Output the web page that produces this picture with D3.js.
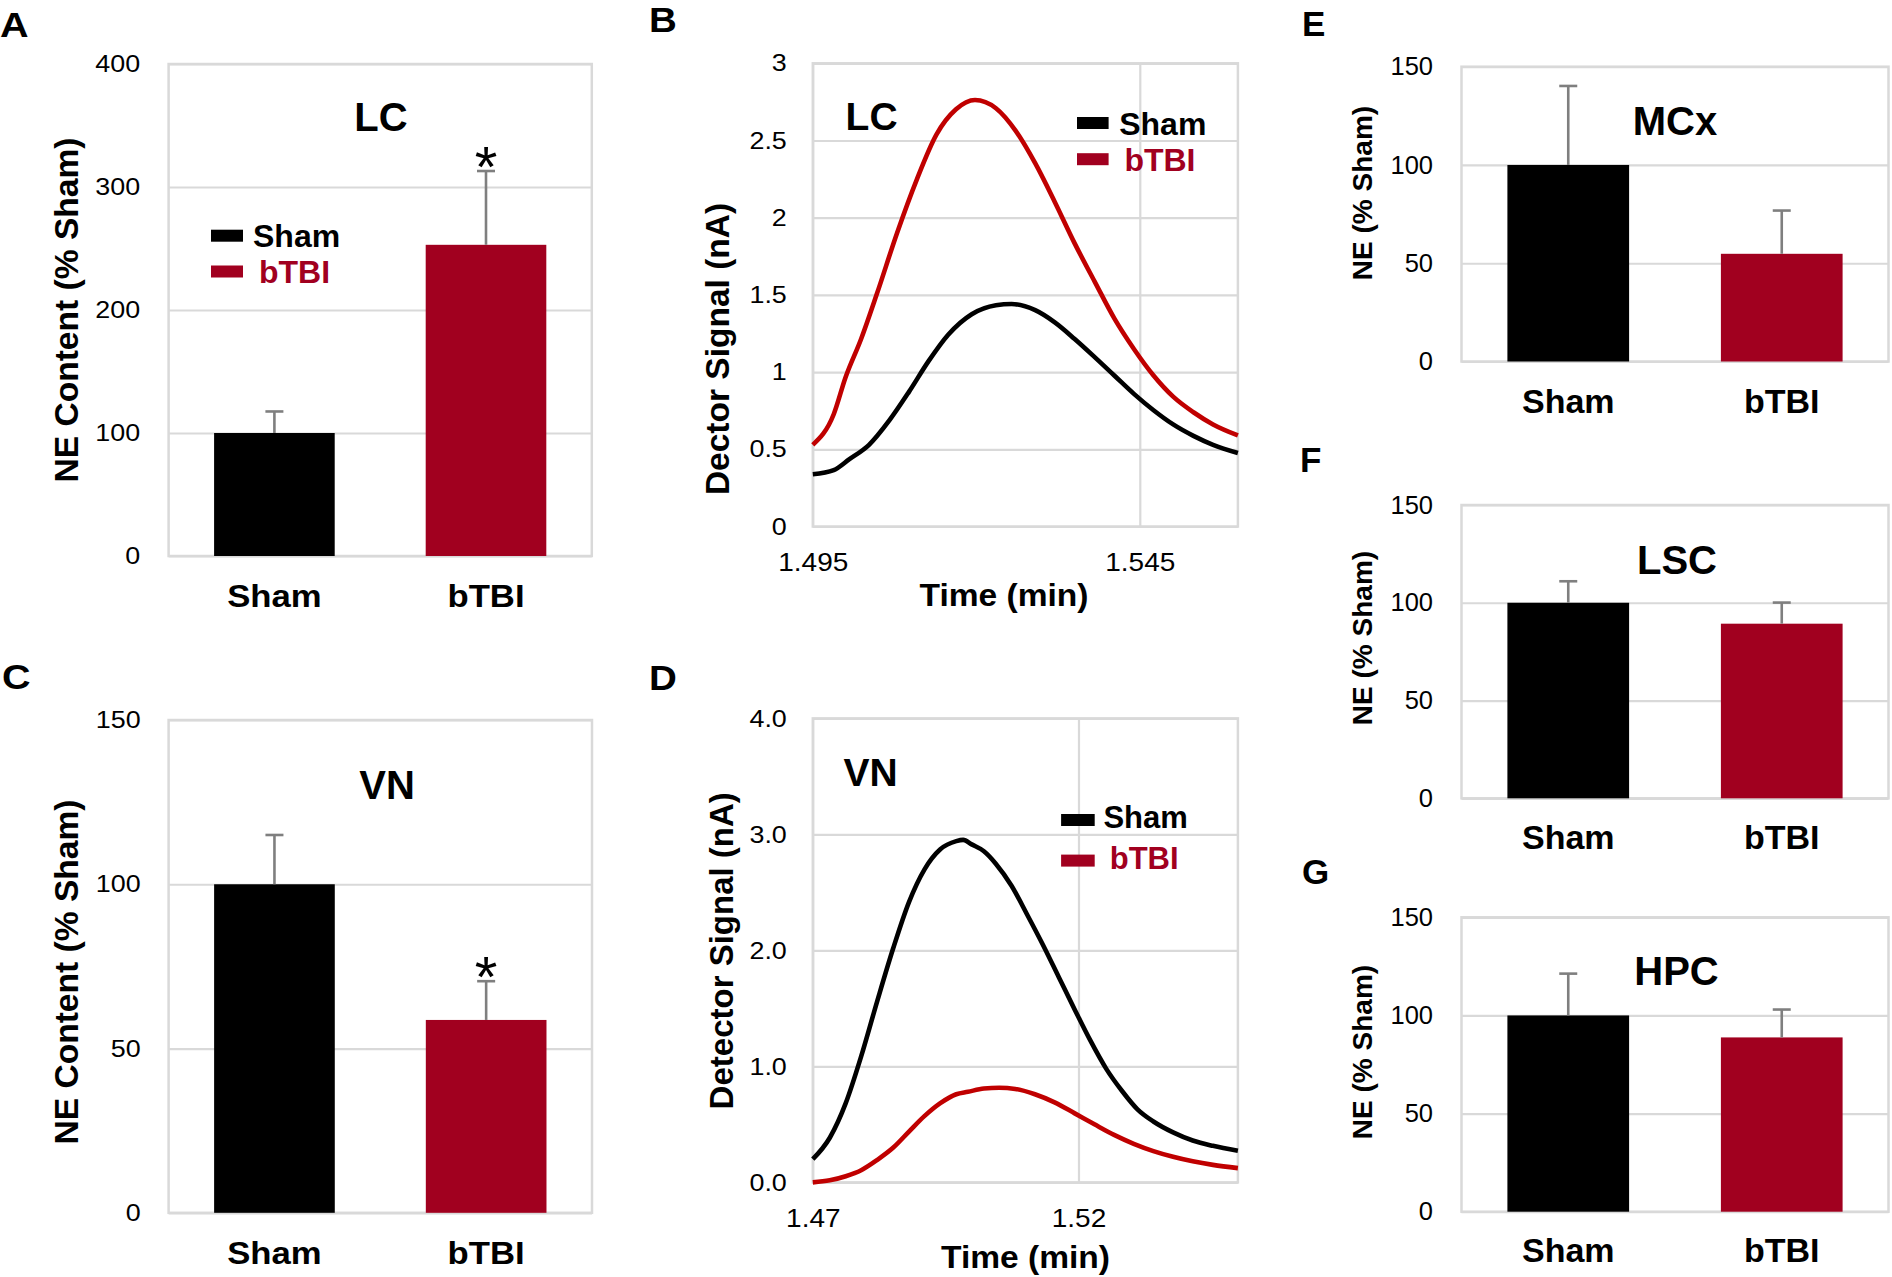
<!DOCTYPE html>
<html><head><meta charset="utf-8">
<script src="https://cdn.jsdelivr.net/npm/d3@7"></script>
<style>body{margin:0;background:#fff}</style>
</head><body><div id="chart"></div>
<script>
// ---------------- DATA ----------------
const groups = ["Sham", "bTBI"];

const lcMean = [100, 253];
const lcSem = [17.5, 60];
const lcSig = [false, true];
const lcTicks = [0, 100, 200, 300, 400];

const vnMean = [100, 58.7];
const vnSem = [15, 11.8];
const vnSig = [false, true];

const pctTicks = [0, 50, 100, 150];

const mcxMean = [100, 54.8];
const mcxSem = [40.2, 22.0];
const lscMean = [100, 89.3];
const lscSem = [11, 10.8];
const hpcMean = [100, 88.8];
const hpcSem = [21.3, 14.2];
const noSig = [false, false];

// LC chromatogram (panel B)
const lcShamTime = [1.4950,1.4982,1.5006,1.5036,1.5067,1.5097,1.5127,1.5157,1.5193,1.5230,1.5254,1.5290,1.5320,1.5350,1.5381,1.5411,1.5441,1.5471,1.5501,1.5532,1.5562,1.5600];
const lcShamSignal = [0.338,0.365,0.436,0.529,0.687,0.872,1.071,1.242,1.375,1.433,1.441,1.401,1.322,1.216,1.097,0.978,0.859,0.753,0.661,0.587,0.529,0.476];
const lcBtbiTime = [1.4950,1.4982,1.5000,1.5024,1.5048,1.5079,1.5109,1.5139,1.5169,1.5198,1.5230,1.5260,1.5290,1.5320,1.5350,1.5381,1.5411,1.5441,1.5471,1.5501,1.5532,1.5562,1.5600];
const lcBtbiSignal = [0.529,0.727,0.965,1.216,1.507,1.903,2.247,2.538,2.702,2.762,2.709,2.564,2.353,2.102,1.837,1.586,1.348,1.150,0.978,0.841,0.740,0.661,0.590];
const lcChromYTicks = [0, 0.5, 1, 1.5, 2, 2.5, 3];
const lcChromXTicks = [1.495, 1.545];

// VN chromatogram (panel D)
const vnShamTime = [1.4700,1.4732,1.4762,1.4791,1.4821,1.4851,1.4881,1.4910,1.4940,1.4970,1.4983,1.4999,1.5022,1.5044,1.5074,1.5103,1.5133,1.5163,1.5193,1.5222,1.5252,1.5282,1.5311,1.5341,1.5378,1.5415,1.5453,1.5500];
const vnShamSignal = [0.200,0.385,0.683,1.086,1.559,2.014,2.417,2.697,2.872,2.942,2.953,2.914,2.855,2.750,2.557,2.312,2.049,1.769,1.489,1.226,0.981,0.788,0.630,0.525,0.431,0.361,0.315,0.273];
const vnBtbiTime = [1.4700,1.4732,1.4762,1.4791,1.4821,1.4851,1.4881,1.4910,1.4940,1.4970,1.4992,1.5022,1.5051,1.5081,1.5118,1.5155,1.5193,1.5230,1.5267,1.5304,1.5341,1.5378,1.5415,1.5453,1.5500];
const vnBtbiSignal = [0.000,0.018,0.053,0.105,0.193,0.298,0.438,0.571,0.683,0.760,0.781,0.809,0.816,0.806,0.760,0.690,0.595,0.501,0.410,0.333,0.270,0.221,0.182,0.151,0.123];
const vnChromYTicks = [0, 1, 2, 3, 4];
const vnChromXTicks = [1.47, 1.52];

// ---------------- STYLE ----------------
const W = 1892, H = 1277;
const FONT = "'Liberation Sans', Arial, Helvetica, sans-serif";
const GRID = "#d9d9d9", ERR = "#7f7f7f", RED_BAR = "#a1001f", RED_LINE = "#c00000";
const barColors = ["#000000", RED_BAR];
const legendColors = ["#000000", RED_BAR];
const lineColors = ["#000000", RED_LINE];

const styleAD = {tick: 24, tickSx: 1.12, cat: 31, catSx: 1.12, ytitle: 33.6, ytSx: 1.0, title: 40, letter: 36, letterSx: 1.1};
const styleEG = {tick: 25.5, tickSx: 1, cat: 34, catSx: 1, ytitle: 28, ytSx: 1, title: 40, letter: 35, letterSx: 1};

const svg = d3.select("#chart").append("svg")
  .attr("width", W).attr("height", H)
  .style("font-family", FONT);
svg.append("rect").attr("width", W).attr("height", H).attr("fill", "#fff");

function label(g, x, y, str, o) {
  const sx = o.sx || 1;
  let tr = `translate(${x},${y})`;
  if (sx !== 1) tr += ` scale(${sx},1)`;
  if (o.rot) tr += ` rotate(${o.rot})`;
  return g.append("text").attr("transform", tr)
    .attr("text-anchor", o.anchor || "start")
    .attr("font-size", o.size)
    .attr("font-weight", o.weight || "normal")
    .attr("fill", o.fill || "#000")
    .style("font-family", o.family || FONT)
    .text(str);
}

function styleAxis(axg, size, sx, orient, pad, base) {
  axg.attr("font-family", null).attr("font-size", null);
  axg.select(".domain").remove();
  axg.selectAll(".tick line").attr("stroke", GRID).attr("stroke-width", 2.2);
  const t = axg.selectAll(".tick text")
    .attr("font-size", size).attr("fill", "#000").style("font-family", FONT);
  if (orient === "y") {
    t.attr("x", -pad / sx).attr("transform", sx !== 1 ? `scale(${sx},1)` : null);
  } else {
    t.attr("y", base).attr("dy", 0).attr("transform", sx !== 1 ? `scale(${sx},1)` : null);
  }
}

function frame(g, c) {
  g.append("rect").attr("x", c.x0).attr("y", c.y0)
    .attr("width", c.x1 - c.x0).attr("height", c.y1 - c.y0)
    .attr("fill", "none").attr("stroke", GRID).attr("stroke-width", 2.5);
}

function barPanel(c) {
  const s = c.style;
  const g = svg.append("g");
  const y = d3.scaleLinear().domain([0, c.max]).range([c.y1, c.y0]);
  const x = d3.scaleBand().domain(groups).range([c.x0, c.x1]).paddingInner(0.43).paddingOuter(0.215);
  const axg = g.append("g").attr("transform", `translate(${c.x0},0)`)
    .call(d3.axisLeft(y).tickValues(c.ticks).tickSize(-(c.x1 - c.x0)).tickPadding(c.tickPad).tickFormat(d3.format("d")));
  styleAxis(axg, s.tick, s.tickSx, "y", c.tickPad);
  frame(g, c);

  const rows = groups.map((k, i) => ({k, m: c.mean[i], e: c.sem[i], col: barColors[i], sig: c.sig[i]}));
  const cx = d => x(d.k) + x.bandwidth() / 2;
  g.selectAll("rect.bar").data(rows).join("rect").attr("class", "bar")
    .attr("x", d => x(d.k)).attr("width", x.bandwidth())
    .attr("y", d => y(d.m)).attr("height", d => y(0) - y(d.m))
    .attr("fill", d => d.col);
  g.selectAll("line.err").data(rows).join("line").attr("class", "err")
    .attr("x1", cx).attr("x2", cx)
    .attr("y1", d => y(d.m)).attr("y2", d => y(d.m + d.e))
    .attr("stroke", ERR).attr("stroke-width", 2.6);
  g.selectAll("line.cap").data(rows).join("line").attr("class", "cap")
    .attr("x1", d => cx(d) - 9).attr("x2", d => cx(d) + 9)
    .attr("y1", d => y(d.m + d.e)).attr("y2", d => y(d.m + d.e))
    .attr("stroke", ERR).attr("stroke-width", 2.6);
  g.selectAll("text.star").data(rows.filter(d => d.sig)).join("text").attr("class", "star")
    .attr("x", cx).attr("y", d => y(d.m + d.e) + 16)
    .attr("text-anchor", "middle").attr("font-size", 58).style("font-family", FONT)
    .text("*");

  rows.forEach(d => label(g, cx(d), c.catBase, d.k, {size: s.cat, sx: s.catSx, weight: "bold", anchor: "middle"}));
  label(g, c.titleX, c.titleY, c.title, {size: s.title, weight: "bold", anchor: "middle"});
  label(g, c.ytX, c.ytY, c.ytitle, {size: s.ytitle, sx: s.ytSx, weight: "bold", anchor: "middle", rot: -90});
  label(g, c.letterX, c.letterY, c.letter, {size: s.letter, sx: s.letterSx, weight: "bold"});
  if (c.legend) drawLegend(g, c.legend, legendColors);
}

function drawLegend(g, L, cols) {
  groups.forEach((k, i) => {
    g.append("rect").attr("x", L.sx).attr("y", L.cy[i] - 6).attr("width", L.sw).attr("height", 12).attr("fill", cols[i]);
    label(g, L.tx[i], L.by[i], k, {size: L.size, weight: "bold", fill: cols[i]});
  });
}

function linePanel(c) {
  const g = svg.append("g");
  const x = d3.scaleLinear().domain(c.xdom).range([c.x0, c.x1]);
  const y = d3.scaleLinear().domain(c.ydom).range([c.y1, c.y0]);
  const ayg = g.append("g").attr("transform", `translate(${c.x0},0)`)
    .call(d3.axisLeft(y).tickValues(c.yticks).tickSize(-(c.x1 - c.x0)).tickPadding(c.tickPad).tickFormat(c.yfmt));
  styleAxis(ayg, 24, 1.12, "y", c.tickPad);
  const axg = g.append("g").attr("transform", `translate(0,${c.y1})`)
    .call(d3.axisBottom(x).tickValues(c.xticks).tickSize(-(c.y1 - c.y0)).tickFormat(d => String(d)));
  styleAxis(axg, 25, 1.12, "x", 0, c.xtickBase - c.y1);
  frame(g, c);

  const line = d3.line().x(d => x(d.t)).y(d => y(d.v)).curve(d3.curveMonotoneX);
  c.series.forEach((sr, i) => {
    const pts = sr.t.map((t, j) => ({t, v: sr.v[j]}));
    g.append("path").datum(pts).attr("d", line).attr("fill", "none")
      .attr("stroke", lineColors[i]).attr("stroke-width", 4.6)
      .attr("stroke-linejoin", "round").attr("stroke-linecap", "butt");
  });

  label(g, c.titleX, c.titleY, c.title, {size: 39, weight: "bold"});
  label(g, c.ytX, c.ytY, c.ytitle, {size: c.ytSize, weight: "bold", anchor: "middle", rot: -90});
  label(g, c.xtX, c.xtY, "Time (min)", {size: 30.5, sx: 1.1, weight: "bold", anchor: "middle"});
  label(g, c.letterX, c.letterY, c.letter, {size: 35, sx: 1.1, weight: "bold"});
  drawLegend(g, c.legend, legendColors);
}

// ---------------- PANELS ----------------
barPanel({
  x0: 168.6, x1: 591.8, y0: 64, y1: 556, max: 400, ticks: lcTicks, tickPad: 28.5,
  mean: lcMean, sem: lcSem, sig: lcSig, style: styleAD,
  title: "LC", titleX: 381, titleY: 131.4,
  ytitle: "NE Content (% Sham)", ytX: 78, ytY: 310,
  letter: "A", letterX: 0, letterY: 37, catBase: 607,
  legend: {sx: 211, sw: 32, cy: [235.7, 271.5], tx: [253, 259], by: [247, 283], size: 32}
});

barPanel({
  x0: 168.6, x1: 592, y0: 720, y1: 1212.8, max: 150, ticks: pctTicks, tickPad: 28,
  mean: vnMean, sem: vnSem, sig: vnSig, style: styleAD,
  title: "VN", titleX: 387, titleY: 799.3,
  ytitle: "NE Content (% Sham)", ytX: 78.4, ytY: 972,
  letter: "C", letterX: 2, letterY: 688.7, catBase: 1263.6
});

barPanel({
  x0: 1461.5, x1: 1888.5, y0: 66.7, y1: 361.5, max: 150, ticks: pctTicks, tickPad: 28.5,
  mean: mcxMean, sem: mcxSem, sig: noSig, style: styleEG,
  title: "MCx", titleX: 1675, titleY: 135,
  ytitle: "NE (% Sham)", ytX: 1372, ytY: 193,
  letter: "E", letterX: 1302, letterY: 35.7, catBase: 413.3
});

barPanel({
  x0: 1461.5, x1: 1888.5, y0: 505, y1: 798.3, max: 150, ticks: pctTicks, tickPad: 28.5,
  mean: lscMean, sem: lscSem, sig: noSig, style: styleEG,
  title: "LSC", titleX: 1677, titleY: 574.3,
  ytitle: "NE (% Sham)", ytX: 1372, ytY: 638,
  letter: "F", letterX: 1300, letterY: 472, catBase: 849
});

barPanel({
  x0: 1461.5, x1: 1888.5, y0: 917.3, y1: 1211.7, max: 150, ticks: pctTicks, tickPad: 28.5,
  mean: hpcMean, sem: hpcSem, sig: noSig, style: styleEG,
  title: "HPC", titleX: 1676.5, titleY: 985,
  ytitle: "NE (% Sham)", ytX: 1372, ytY: 1052,
  letter: "G", letterX: 1302, letterY: 884, catBase: 1262
});

linePanel({
  x0: 812.8, x1: 1237.9, y0: 63.3, y1: 526.5, xdom: [1.495, 1.56], ydom: [0, 3],
  yticks: lcChromYTicks, xticks: lcChromXTicks, yfmt: d => String(d), tickPad: 26, xtickBase: 571.4,
  series: [{t: lcShamTime, v: lcShamSignal}, {t: lcBtbiTime, v: lcBtbiSignal}],
  title: "LC", titleX: 845.6, titleY: 129.8,
  ytitle: "Dector Signal (nA)", ytSize: 33.5, ytX: 729, ytY: 349,
  xtX: 1004, xtY: 606,
  letter: "B", letterX: 649, letterY: 31.8,
  legend: {sx: 1077, sw: 31.6, cy: [123, 159.2], tx: [1119.2, 1124.4], by: [134.7, 171.4], size: 32}
});

linePanel({
  x0: 812.8, x1: 1237.9, y0: 718.4, y1: 1182.4, xdom: [1.47, 1.55], ydom: [0, 4],
  yticks: vnChromYTicks, xticks: vnChromXTicks, yfmt: d3.format(".1f"), tickPad: 26, xtickBase: 1227,
  series: [{t: vnShamTime, v: vnShamSignal}, {t: vnBtbiTime, v: vnBtbiSignal}],
  title: "VN", titleX: 843.6, titleY: 786.3,
  ytitle: "Detector Signal (nA)", ytSize: 33, ytX: 733, ytY: 950.8,
  xtX: 1025.5, xtY: 1268,
  letter: "D", letterX: 649, letterY: 689.5,
  legend: {sx: 1061.1, sw: 33.6, cy: [820, 860.6], tx: [1103.4, 1109.7], by: [827.7, 868.7], size: 31}
});
</script>
</body></html>
